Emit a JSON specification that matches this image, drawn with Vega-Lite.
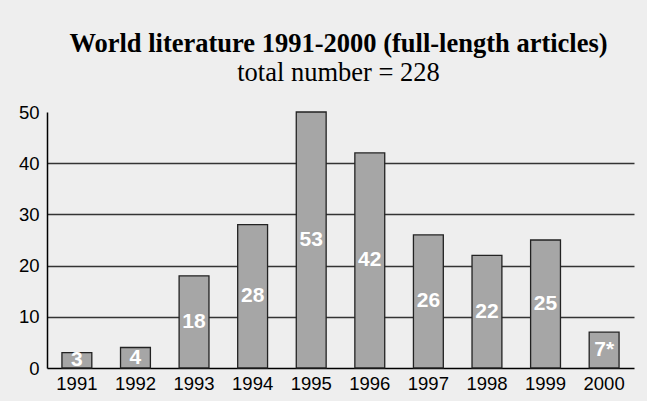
{
  "$schema": "https://vega.github.io/schema/vega-lite/v6.json",
  "autosize": "none",
  "width": 587,
  "height": 256,
  "padding": {"left": 47, "top": 112, "right": 13, "bottom": 33},
  "background": "#eeeeee",
  "config": {"view": {"stroke": null}},
  "title": {
    "text": "World literature 1991-2000 (full-length articles)",
    "subtitle": "total number = 228",
    "font": "Liberation Serif",
    "fontSize": 26.5,
    "fontWeight": "bold",
    "color": "#000000",
    "subtitleFont": "Liberation Serif",
    "subtitleFontSize": 26.5,
    "subtitleColor": "#000000",
    "subtitlePadding": 2,
    "offset": 17,
    "dx": -2,
    "anchor": "middle"
  },
  "data": {
    "values": [
      {"year": "1991", "count": 3, "label": "3"},
      {"year": "1992", "count": 4, "label": "4"},
      {"year": "1993", "count": 18, "label": "18"},
      {"year": "1994", "count": 28, "label": "28"},
      {"year": "1995", "count": 50, "label": "53"},
      {"year": "1996", "count": 42, "label": "42"},
      {"year": "1997", "count": 26, "label": "26"},
      {"year": "1998", "count": 22, "label": "22"},
      {"year": "1999", "count": 25, "label": "25"},
      {"year": "2000", "count": 7, "label": "7*"}
    ]
  },
  "transform": [{"calculate": "datum.count / 2", "as": "mid"}],
  "encoding": {
    "x": {
      "field": "year",
      "type": "ordinal",
      "scale": {"paddingInner": 0.49, "paddingOuter": 0.255},
      "axis": {
        "title": null,
        "labelAngle": 0,
        "ticks": false,
        "labelPadding": 6,
        "labelFont": "Liberation Sans",
        "labelFontSize": 18.5,
        "labelColor": "#000000",
        "domainColor": "#000000",
        "domainWidth": 1.5
      }
    }
  },
  "layer": [
    {
      "mark": {"type": "bar", "color": "#a6a6a6", "stroke": "#222222", "strokeWidth": 1.3},
      "encoding": {
        "y": {
          "field": "count",
          "type": "quantitative",
          "scale": {"domain": [0, 50], "nice": false},
          "axis": {
            "title": null,
            "values": [0, 10, 20, 30, 40, 50],
            "ticks": false,
            "labelPadding": 8,
            "labelFont": "Liberation Sans",
            "labelFontSize": 18.5,
            "labelColor": "#000000",
            "domainColor": "#000000",
            "domainWidth": 1.5,
            "grid": true,
            "gridColor": "#333333",
            "gridWidth": 1.5,
            "gridOpacity": {"condition": {"test": "datum.value === 50 || datum.value === 0", "value": 0}, "value": 1}
          }
        }
      }
    },
    {
      "mark": {
        "type": "text",
        "color": "#ffffff",
        "font": "Liberation Sans",
        "fontSize": 21,
        "fontWeight": "bold",
        "baseline": "middle",
        "align": "center"
      },
      "encoding": {
        "y": {"field": "mid", "type": "quantitative"},
        "text": {"field": "label"}
      }
    }
  ]
}
